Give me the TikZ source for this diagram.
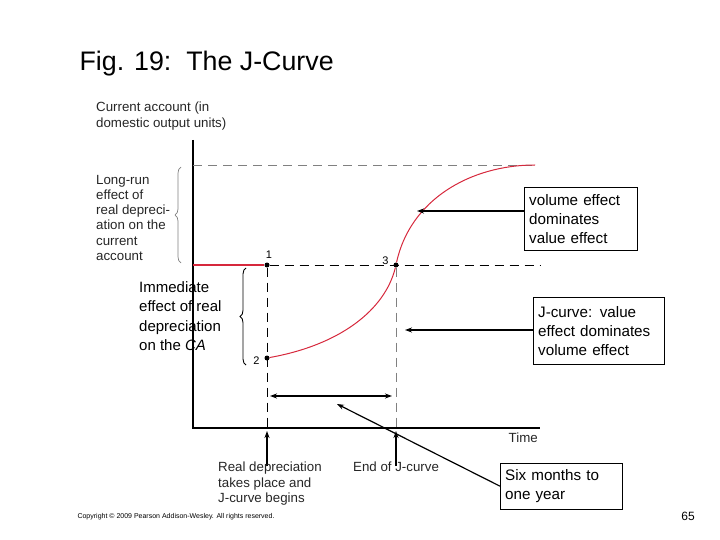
\documentclass[tikz,border=0pt]{standalone}
\usepackage{fontspec}
\setmainfont{Liberation Sans}
\usetikzlibrary{arrows.meta,decorations.pathreplacing}
\definecolor{jred}{RGB}{214,40,60}
\begin{document}
\begin{tikzpicture}[x=1pt,y=-1pt,
  lab/.style={align=left,inner sep=0pt,font=\fontsize{13.3}{15.2}\selectfont,text=black!85},
  box/.style={draw,align=left,inner xsep=5pt,inner ysep=3pt,font=\fontsize{15.2}{19}\selectfont},
  dsh/.style={dash pattern=on 9pt off 6pt,line width=0.7pt},
  pt/.style={circle,fill=black,inner sep=0pt,minimum size=5pt},
  arr/.style={-{Stealth[length=7pt,width=5pt]},line width=1.2pt}]
\useasboundingbox (0,0) rectangle (720,540);
\node[anchor=west,font=\fontsize{26.8}{30}\selectfont] (title) at (76,64) {Fig. 19:\ \ The J-Curve};
% axes
\coordinate (ytop) at (193,140); \coordinate (o) at (193,428); \coordinate (xend) at (540,428);
\draw[line width=1.4pt] (ytop) -- (o) -- (xend);
\node[lab,anchor=north west] (ylab) at (96,102) {Current account (in\\domestic output units)};
\node[lab,anchor=north east] (time) at (538,433) {Time};
% dashed
\coordinate (lt) at (193,165); \coordinate (rt) at (535,165);
\draw[dsh,gray] (lt) -- (rt);
\node[pt] (p1) at (267,265) {}; \node[pt] (p2) at (267,358) {}; \node[pt] (p3) at (396,265) {};
\coordinate (rr) at (540,265); \coordinate (b1) at (267,428); \coordinate (b3) at (396,428);
\draw[dsh] (p1) -- (rr);
\draw[dsh] (p1) -- (b1);
\draw[dsh,gray] (p3) -- (b3);
\node[font=\fontsize{11}{12}\selectfont,anchor=south] at (269,262) {1};
\node[font=\fontsize{11}{12}\selectfont,anchor=south east] at (392,268) {3};
\node[font=\fontsize{11}{12}\selectfont,anchor=east] at (263,361) {2};
% curve
\coordinate (s0) at (193,265);
\draw[jred,line width=1.6pt] (s0) -- (p1);
\draw[jred,line width=1pt] (p2) .. controls (340,345) and (385,310) .. (p3)
  .. controls (410,200) and (470,165) .. (rt);
% braces
\coordinate (bra) at (181,263); \coordinate (brb) at (181,167);
\draw[decorate,decoration={brace,amplitude=6pt},gray,line width=0.7pt] (bra) -- (brb);
\coordinate (brc) at (246,365); \coordinate (brd) at (246,268);
\draw[decorate,decoration={brace,amplitude=6pt},line width=0.9pt] (brc) -- (brd);
\node[lab,anchor=north west] (lr) at (96,175) {Long-run\\effect of\\real depreci-\\ation on the\\current\\account};
\node[align=left,inner sep=0pt,anchor=north west,font=\fontsize{15}{19.5}\selectfont] (imm) at (139,281) {Immediate\\effect of real\\depreciation\\on the \textit{CA}};
% double arrow
\coordinate (da) at (270,396); \coordinate (db) at (392,396);
\draw[{Stealth[length=7pt,width=5pt]}-{Stealth[length=7pt,width=5pt]},line width=1.2pt] (da) -- (db);
% up arrows
\coordinate (u1) at (267,466); \coordinate (u1t) at (267,431);
\coordinate (u3) at (396,466); \coordinate (u3t) at (396,431);
\draw[arr] (u1) -- (u1t); \draw[arr] (u3) -- (u3t);
\node[lab,anchor=north west] (rd) at (218,462) {Real depreciation\\takes place and\\J-curve begins};
\node[lab,anchor=north west] (ej) at (353,462) {End of J-curve};
% boxes
\node[box,anchor=north west,text width=103pt,minimum height=63pt] (b1x) at (524,187) {volume effect\\dominates\\value effect};
\node[box,anchor=north west,text width=121pt,minimum height=67pt] (b2x) at (533,297) {J-curve: value\\effect dominates\\volume effect};
\node[box,anchor=north west,text width=112pt,minimum height=46pt] (b3x) at (500,463) {Six months to\\one year};
\coordinate (a1) at (417,211); \coordinate (a2) at (405,330); \coordinate (a3) at (337,404);
\draw[arr] (b1x.west|-a1) -- (a1);
\draw[arr] (b2x.west|-a2) -- (a2);
\draw[arr] (b3x.west) -- (a3);
% footer
\node[anchor=west,font=\fontsize{7}{7}\selectfont] (copy) at (74,517) {Copyright © 2009 Pearson Addison-Wesley. All rights reserved.};
\node[font=\fontsize{12}{14}\selectfont] (pg) at (688,516) {65};
\end{tikzpicture}
\end{document}
